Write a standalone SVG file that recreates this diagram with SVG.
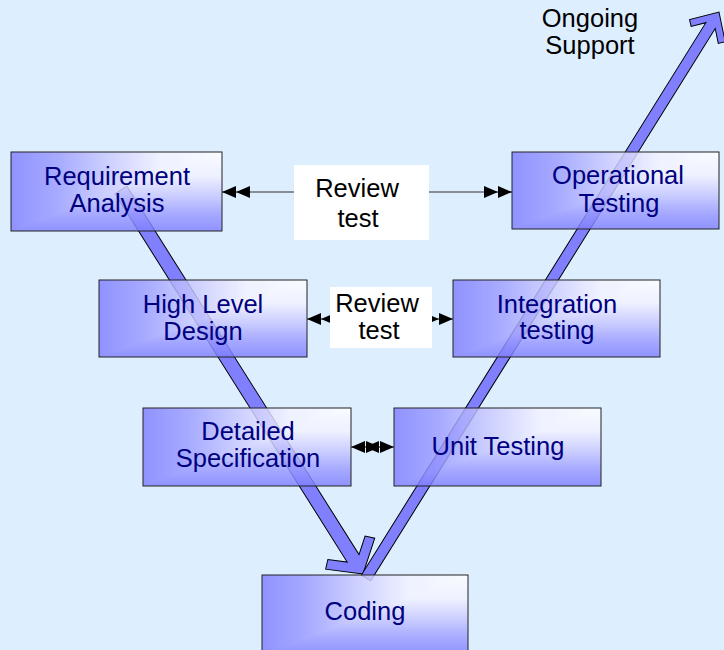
<svg xmlns="http://www.w3.org/2000/svg" width="724" height="650" viewBox="0 0 724 650">
<style>
.box{fill:none;stroke:#222;stroke-width:1}
.fill{opacity:.82}
.nt{font-family:"Liberation Sans",Arial,sans-serif;font-size:25.5px;fill:#000080;text-anchor:middle}
.bt{font-family:"Liberation Sans",Arial,sans-serif;font-size:25.5px;fill:#000;text-anchor:middle}
.big{fill:#8080ff;stroke:#000;stroke-width:1;stroke-linejoin:miter}
.link{stroke:#333;stroke-width:1.2;fill:none;marker-start:url(#dbl);marker-end:url(#dbl)}
.rv{fill:#fff}
</style>
<defs>
<linearGradient id="gh" x1="1" y1="0" x2="0" y2="0">
<stop offset="0" stop-color="#ffffff"/><stop offset="0.3" stop-color="#f2f2ff"/><stop offset="0.55" stop-color="#c8c8ff"/><stop offset="0.78" stop-color="#9c9cff"/><stop offset="1" stop-color="#7f7fff"/>
</linearGradient>
<linearGradient id="gv" x1="0" y1="0" x2="0" y2="1">
<stop offset="0" stop-color="#ffffff"/><stop offset="0.3" stop-color="#f2f2ff"/><stop offset="0.55" stop-color="#c8c8ff"/><stop offset="0.78" stop-color="#9c9cff"/><stop offset="1" stop-color="#7f7fff"/>
</linearGradient>
<marker id="dbl" markerUnits="userSpaceOnUse" markerWidth="28" markerHeight="12" viewBox="0 0 28 12" refX="28" refY="6" orient="auto-start-reverse">
<path d="M0,0 L14,6 L0,12Z M14,0 L28,6 L14,12Z" fill="#000"/>
</marker>
</defs>
<rect width="724" height="650" fill="#ddeeff"/>
<g id="connectors">
<polygon class="big" transform="translate(363,574) rotate(57.78)" points="0,0 -24,29 -31,22 -18.6,7 -454,7 -454,-7 -18.6,-7 -31,-22 -24,-29"/>
<polygon class="big" transform="translate(719,12) rotate(-58.05)" points="0,0 -22,21 -27,16 -16,5.5 -667,5.5 -667,-5.5 -16,-5.5 -27,-16 -22,-21"/>
<path class="link" d="M222,192 H512"/>
<path class="link" d="M307,319 H453"/>
<path class="link" d="M351,447 H394"/>
</g>
<g id="req">
<g class="fill"><rect x="11" y="152" width="211" height="79" fill="url(#gh)"/><polygon points="222,152 222,231 11,231" fill="url(#gv)"/></g>
<rect class="box" x="11" y="152" width="211" height="79"/>
<text class="nt" x="117" y="185">Requirement</text><text class="nt" x="117" y="212">Analysis</text>
</g>
<g id="op">
<g class="fill"><rect x="512" y="152" width="207" height="77" fill="url(#gh)"/><polygon points="719,152 719,229 512,229" fill="url(#gv)"/></g>
<rect class="box" x="512" y="152" width="207" height="77"/>
<text class="nt" x="618" y="184">Operational</text><text class="nt" x="619" y="212">Testing</text>
</g>
<g id="hld">
<g class="fill"><rect x="99" y="280" width="208" height="77" fill="url(#gh)"/><polygon points="307,280 307,357 99,357" fill="url(#gv)"/></g>
<rect class="box" x="99" y="280" width="208" height="77"/>
<text class="nt" x="203" y="313">High Level</text><text class="nt" x="203" y="340">Design</text>
</g>
<g id="int">
<g class="fill"><rect x="453" y="280" width="207" height="77" fill="url(#gh)"/><polygon points="660,280 660,357 453,357" fill="url(#gv)"/></g>
<rect class="box" x="453" y="280" width="207" height="77"/>
<text class="nt" x="557" y="313">Integration</text><text class="nt" x="557" y="339">testing</text>
</g>
<g id="det">
<g class="fill"><rect x="143" y="408" width="208" height="78" fill="url(#gh)"/><polygon points="351,408 351,486 143,486" fill="url(#gv)"/></g>
<rect class="box" x="143" y="408" width="208" height="78"/>
<text class="nt" x="248" y="440">Detailed</text><text class="nt" x="248" y="467">Specification</text>
</g>
<g id="unit">
<g class="fill"><rect x="394" y="408" width="207" height="78" fill="url(#gh)"/><polygon points="601,408 601,486 394,486" fill="url(#gv)"/></g>
<rect class="box" x="394" y="408" width="207" height="78"/>
<text class="nt" x="498" y="455">Unit Testing</text>
</g>
<g id="cod">
<g class="fill"><rect x="262" y="575" width="206" height="80" fill="url(#gh)"/><polygon points="468,575 468,655 262,655" fill="url(#gv)"/></g>
<rect class="box" x="262" y="575" width="206" height="80"/>
<text class="nt" x="365" y="620">Coding</text>
</g>
<g id="review1">
<rect class="rv" x="294" y="165" width="135" height="75"/>
<text class="bt" x="357" y="197">Review</text><text class="bt" x="358" y="227">test</text>
</g>
<g id="review2">
<rect class="rv" x="330" y="287" width="102" height="61"/>
<text class="bt" x="377" y="312">Review</text><text class="bt" x="379" y="339">test</text>
</g>
<g id="ongoing">
<text class="bt" x="590" y="27">Ongoing</text><text class="bt" x="590" y="54">Support</text>
</g>
</svg>
